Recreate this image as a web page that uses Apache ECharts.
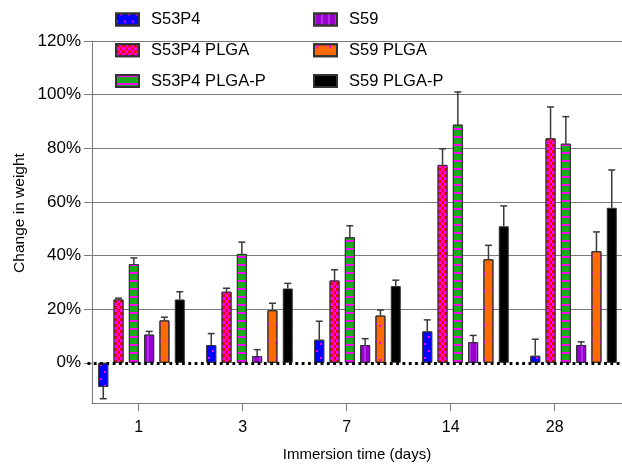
<!DOCTYPE html>
<html>
<head>
<meta charset="utf-8">
<script src="https://cdn.jsdelivr.net/npm/echarts@6/dist/echarts.min.js"></script>
<style>html,body{margin:0;padding:0;background:#fff}#c{width:622px;height:465px}</style>
</head>
<body>
<div id="c"></div>
<script>
// ---- data ----
const categories = ['1', '3', '7', '14', '28'];
const seriesNames = ['S53P4', 'S53P4 PLGA', 'S53P4 PLGA-P', 'S59', 'S59 PLGA', 'S59 PLGA-P'];
const s53p4        = [-9.0, 6.6, 8.6, 11.7, 2.6];
const s53p4Err     = [4.4, 4.3, 6.9, 4.3, 6.2];
const s53p4Plga    = [23.6, 26.5, 30.7, 73.8, 83.7];
const s53p4PlgaErr = [0.5, 1.3, 4.0, 6.0, 11.7];
const s53p4PlgaP   = [36.8, 40.6, 46.8, 88.8, 81.7];
const s53p4PlgaPErr= [2.3, 4.4, 4.3, 12.2, 10.1];
const s59          = [10.5, 2.5, 6.6, 7.7, 6.6];
const s59Err       = [1.2, 2.4, 2.4, 2.5, 1.2];
const s59Plga      = [15.8, 19.6, 17.6, 38.6, 41.6];
const s59PlgaErr   = [1.2, 2.6, 2.1, 5.2, 7.2];
const s59PlgaP     = [23.6, 27.7, 28.6, 50.9, 57.8];
const s59PlgaPErr  = [2.9, 1.9, 2.2, 7.6, 14.1];
const yTickMin = 0, yTickMax = 120, yTickStep = 20;
const xAxisTitle = 'Immersion time (days)';
const yAxisTitle = 'Change in weight';

const values = [s53p4, s53p4Plga, s53p4PlgaP, s59, s59Plga, s59PlgaP];
const errors = [s53p4Err, s53p4PlgaErr, s53p4PlgaPErr, s59Err, s59PlgaErr, s59PlgaPErr];

// ---- styles ----
const FONT = '"Liberation Sans", Arial, sans-serif';
const GRAY = '#7a7a7a';
const BAR_W = 10, BAR_GAP = 5.3, STEP = BAR_W + BAR_GAP;
const TOP = 41, BOTTOM = 62, PX_PER = (465 - TOP - BOTTOM) / 135;

const styles = [
  { color: '#0000ff', decal: { symbol: 'rect', symbolSize: 1, color: '#ff00ff', dashArrayX: [[2, 6], [0, 4, 2, 2]], dashArrayY: [2, 5] } },
  { color: '#ff0000', decal: { symbol: 'rect', symbolSize: 1, color: '#ff00ff', dashArrayX: [[3, 3], [0, 3, 3, 0]], dashArrayY: [3, 0] } },
  { color: '#19ab19', decal: { symbol: 'rect', symbolSize: 1, color: '#ff00ff', dashArrayX: [1, 0], dashArrayY: [2, 6] } },
  { color: '#9a00d0', decal: { symbol: 'rect', symbolSize: 1, color: '#b030e6', dashArrayX: [2, 5], dashArrayY: [1, 0] } },
  { color: '#ff6a00', decal: { symbol: 'rect', symbolSize: 1, color: '#ff00ff', dashArrayX: [[2, 1, 2, 7], [0, 1.5, 2, 8.5]], dashArrayY: [1.5, 0, 1.5, 13] } },
  { color: '#000000' }
];

const barSeries = seriesNames.map((name, s) => ({
  name: name,
  type: 'bar',
  xAxisIndex: 0, yAxisIndex: 0,
  data: values[s],
  barWidth: BAR_W,
  barGap: (BAR_GAP / BAR_W * 100) + '%',
  itemStyle: Object.assign({ borderColor: '#333', borderWidth: 1 }, styles[s]),
  z: 3
}));

const errData = [];
values.forEach((arr, s) => arr.forEach((v, i) => errData.push([i, v, errors[s][i], s])));

const errSeries = {
  type: 'custom',
  xAxisIndex: 0, yAxisIndex: 0,
  data: errData,
  encode: { x: 0, y: 1 },
  z: 5,
  renderItem: function (params, api) {
    const i = api.value(0), v = api.value(1), e = api.value(2), s = api.value(3);
    const base = api.coord([i, v]);
    const end = api.coord([i, v < 0 ? v - e : v + e]);
    const x = base[0] + (s - 2.5) * STEP;
    const st = { stroke: '#3a3a3a', lineWidth: 1.5 };
    return { type: 'group', children: [
      { type: 'line', shape: { x1: x, y1: base[1], x2: x, y2: end[1] }, style: st },
      { type: 'line', shape: { x1: x - 3.5, y1: end[1], x2: x + 3.5, y2: end[1] }, style: st }
    ]};
  }
};

const baseSeries = {
  type: 'line', xAxisIndex: 0, yAxisIndex: 0, data: [], z: 10,
  markLine: {
    silent: true, symbol: 'none', animation: false,
    label: { show: false },
    lineStyle: { color: '#000', width: 2.8, type: [2.8, 3.5], cap: 'butt' },
    data: [{ yAxis: 0 }]
  }
};

const legendBase = {
  orient: 'vertical', top: 11, itemWidth: 23, itemHeight: 12, itemGap: 13.8,
  icon: 'rect', padding: 0, selectedMode: false,
  textStyle: { fontFamily: FONT, fontSize: 16.5, lineHeight: 17, color: '#000', padding: [0, 0, 0, 7] }
};

const gridBase = { top: TOP, outerBoundsMode: 'none', containLabel: false };

const option = {
  animation: false,
  backgroundColor: '#fff',
  legend: [
    Object.assign({}, legendBase, { left: 115, data: seriesNames.slice(0, 3) }),
    Object.assign({}, legendBase, { left: 313, data: seriesNames.slice(3) })
  ],
  grid: [
    Object.assign({ left: 87.5, width: 540, bottom: BOTTOM }, gridBase),        // bars
    Object.assign({ left: 92, right: 0, bottom: BOTTOM }, gridBase),            // axis lines
    Object.assign({ left: 86.7, width: 520, bottom: BOTTOM }, gridBase),        // x ticks & labels
    Object.assign({ left: 92, right: 0, height: 120 * PX_PER }, gridBase)       // y ticks, labels, grid
  ],
  xAxis: [
    { gridIndex: 0, type: 'category', data: categories, show: false },
    { gridIndex: 1, type: 'category', data: categories, position: 'bottom',
      axisLine: { show: true, onZero: false, lineStyle: { color: GRAY, width: 1 } },
      axisTick: { show: false }, axisLabel: { show: false },
      name: xAxisTitle, nameLocation: 'middle', nameGap: 44,
      nameTextStyle: { fontFamily: FONT, fontSize: 15, color: '#000' } },
    { gridIndex: 2, type: 'category', data: categories,
      axisLine: { show: false },
      axisTick: { show: true, alignWithLabel: true, length: 8, lineStyle: { color: GRAY } },
      axisLabel: { fontFamily: FONT, fontSize: 16, color: '#000', margin: 17 } },
    { gridIndex: 3, type: 'category', data: categories, show: false }
  ],
  yAxis: [
    { gridIndex: 0, type: 'value', min: -15, max: 120, show: false },
    { gridIndex: 1, type: 'value', min: -15, max: 120,
      axisLine: { show: true, lineStyle: { color: GRAY, width: 1 } },
      axisTick: { show: false }, axisLabel: { show: false }, splitLine: { show: false },
      name: yAxisTitle, nameLocation: 'middle', nameGap: 64, nameRotate: 90,
      nameTextStyle: { fontFamily: FONT, fontSize: 15.5, color: '#000', padding: [0, 0, 0, 18] } },
    { gridIndex: 2, type: 'value', min: 0, max: 1, show: false },
    { gridIndex: 3, type: 'value', min: yTickMin, max: yTickMax, interval: yTickStep,
      axisLine: { show: false },
      axisTick: { show: true, length: 8, lineStyle: { color: GRAY } },
      axisLabel: { fontFamily: FONT, fontSize: 17, color: '#000', margin: 11, formatter: '{value}%' },
      splitLine: { show: true, showMinLine: false, lineStyle: { color: GRAY, width: 1 } } }
  ],
  series: barSeries.concat([errSeries, baseSeries])
};

const chart = echarts.init(document.getElementById('c'), null, { renderer: 'canvas' });
chart.setOption(option);
</script>
</body>
</html>
